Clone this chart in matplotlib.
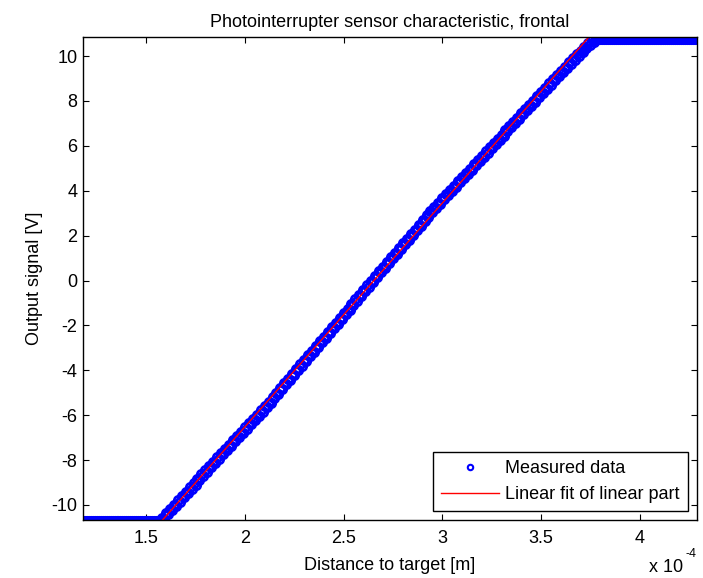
import matplotlib as mpl
import numpy as np
from matplotlib import pyplot as plt

mpl.rcParams["font.family"] = ["Liberation Sans", "DejaVu Sans"]
mpl.rcParams["axes.unicode_minus"] = False

# distance in units of 1e-4 m, output in V
# lower saturation
dist_lo = [1.18, 1.19, 1.20, 1.21, 1.22, 1.23, 1.24, 1.25, 1.26, 1.27,
           1.28, 1.29, 1.30, 1.31, 1.32, 1.33, 1.34, 1.35, 1.36, 1.37,
           1.38, 1.39, 1.40, 1.41, 1.42, 1.43, 1.44, 1.45, 1.46, 1.47,
           1.48, 1.49, 1.50, 1.51, 1.52, 1.53, 1.54, 1.55, 1.56, 1.57]
volt_lo = [-10.70] * len(dist_lo)

# linear range, first sweep
dist_up = [1.58, 1.60, 1.62, 1.64, 1.66, 1.68, 1.70, 1.72, 1.74, 1.76,
           1.78, 1.80, 1.82, 1.84, 1.86, 1.88, 1.90, 1.92, 1.94, 1.96,
           1.98, 2.00, 2.02, 2.04, 2.06, 2.08, 2.10, 2.12, 2.14, 2.16,
           2.18, 2.20, 2.22, 2.24, 2.26, 2.28, 2.30, 2.32, 2.34, 2.36,
           2.38, 2.40, 2.42, 2.44, 2.46, 2.48, 2.50, 2.52, 2.54, 2.56,
           2.58, 2.60, 2.62, 2.64, 2.66, 2.68, 2.70, 2.72, 2.74, 2.76,
           2.78, 2.80, 2.82, 2.84, 2.86, 2.88, 2.90, 2.92, 2.94, 2.96,
           2.98, 3.00, 3.02, 3.04, 3.06, 3.08, 3.10, 3.12, 3.14, 3.16,
           3.18, 3.20, 3.22, 3.24, 3.26, 3.28, 3.30, 3.32, 3.34, 3.36,
           3.38, 3.40, 3.42, 3.44, 3.46, 3.48, 3.50, 3.52, 3.54, 3.56,
           3.58, 3.60, 3.62, 3.64, 3.66, 3.68, 3.70, 3.72, 3.74, 3.76]
volt_up = [-10.56, -10.37, -10.17, -9.98, -9.79, -9.60, -9.41, -9.22, -9.03, -8.84,
           -8.64, -8.45, -8.26, -8.07, -7.88, -7.69, -7.50, -7.31, -7.12, -6.92,
           -6.73, -6.54, -6.35, -6.16, -5.97, -5.78, -5.59, -5.39, -5.20, -4.99,
           -4.78, -4.57, -4.37, -4.16, -3.95, -3.74, -3.54, -3.33, -3.12, -2.91,
           -2.71, -2.50, -2.29, -2.08, -1.88, -1.67, -1.46, -1.25, -1.05, -0.84,
           -0.63, -0.42, -0.22, -0.01, 0.20, 0.41, 0.61, 0.82, 1.03, 1.24,
           1.44, 1.65, 1.86, 2.07, 2.27, 2.48, 2.69, 2.90, 3.09, 3.28,
           3.47, 3.66, 3.85, 4.04, 4.23, 4.42, 4.61, 4.80, 4.99, 5.18,
           5.37, 5.56, 5.75, 5.94, 6.13, 6.31, 6.50, 6.69, 6.88, 7.07,
           7.26, 7.45, 7.64, 7.83, 8.02, 8.21, 8.40, 8.59, 8.78, 8.97,
           9.16, 9.35, 9.53, 9.72, 9.90, 10.07, 10.24, 10.41, 10.58, 10.74]

# linear range, second sweep (lower edge of the band)
dist_dn = [1.59, 1.61, 1.63, 1.65, 1.67, 1.69, 1.71, 1.73, 1.75, 1.77,
           1.79, 1.81, 1.83, 1.85, 1.87, 1.89, 1.91, 1.93, 1.95, 1.97,
           1.99, 2.01, 2.03, 2.05, 2.07, 2.09, 2.11, 2.13, 2.15, 2.17,
           2.19, 2.21, 2.23, 2.25, 2.27, 2.29, 2.31, 2.33, 2.35, 2.37,
           2.39, 2.41, 2.43, 2.45, 2.47, 2.49, 2.51, 2.53, 2.55, 2.57,
           2.59, 2.61, 2.63, 2.65, 2.67, 2.69, 2.71, 2.73, 2.75, 2.77,
           2.79, 2.81, 2.83, 2.85, 2.87, 2.89, 2.91, 2.93, 2.95, 2.97,
           2.99, 3.01, 3.03, 3.05, 3.07, 3.09, 3.11, 3.13, 3.15, 3.17,
           3.19, 3.21, 3.23, 3.25, 3.27, 3.29, 3.31, 3.33, 3.35, 3.37,
           3.39, 3.41, 3.43, 3.45, 3.47, 3.49, 3.51, 3.53, 3.55, 3.57,
           3.59, 3.61, 3.63, 3.65, 3.67, 3.69, 3.71, 3.73, 3.75, 3.77]
volt_dn = [-10.62, -10.42, -10.23, -10.04, -9.85, -9.66, -9.47, -9.28, -9.09, -8.89,
           -8.70, -8.51, -8.32, -8.13, -7.94, -7.75, -7.56, -7.37, -7.17, -6.98,
           -6.79, -6.60, -6.41, -6.22, -6.03, -5.84, -5.64, -5.45, -5.25, -5.04,
           -4.83, -4.62, -4.42, -4.21, -4.00, -3.79, -3.59, -3.38, -3.17, -2.96,
           -2.76, -2.55, -2.34, -2.13, -1.93, -1.72, -1.51, -1.30, -1.10, -0.89,
           -0.68, -0.47, -0.27, -0.06, 0.16, 0.36, 0.57, 0.78, 0.99, 1.19,
           1.40, 1.61, 1.82, 2.02, 2.23, 2.44, 2.65, 2.85, 3.04, 3.23,
           3.42, 3.61, 3.80, 3.99, 4.18, 4.37, 4.56, 4.75, 4.94, 5.13,
           5.32, 5.51, 5.70, 5.89, 6.07, 6.26, 6.45, 6.64, 6.83, 7.02,
           7.21, 7.40, 7.59, 7.78, 7.97, 8.16, 8.35, 8.54, 8.73, 8.92,
           9.11, 9.29, 9.48, 9.66, 9.84, 10.01, 10.18, 10.35, 10.51, 10.62]

# upper saturation
dist_hi = [3.78, 3.79, 3.80, 3.81, 3.82, 3.83, 3.84, 3.85, 3.86, 3.87,
           3.88, 3.89, 3.90, 3.91, 3.92, 3.93, 3.94, 3.95, 3.96, 3.97,
           3.98, 3.99, 4.00, 4.01, 4.02, 4.03, 4.04, 4.05, 4.06, 4.07,
           4.08, 4.09, 4.10, 4.11, 4.12, 4.13, 4.14, 4.15, 4.16, 4.17,
           4.18, 4.19, 4.20, 4.21, 4.22, 4.23, 4.24, 4.25, 4.26, 4.27, 4.28]
volt_hi = [10.78] * len(dist_hi)

fit_dist = [1.58, 2.00, 2.50, 3.00, 3.50, 3.738]
fit_volt = [-10.70, -6.52, -1.53, 3.45, 8.43, 10.80]

dist = np.array(dist_lo + dist_up + dist_dn + dist_hi)
volt = np.array(volt_lo + volt_up + volt_dn + volt_hi)

FS = 13

fig = plt.figure(figsize=(7.03, 5.78), dpi=100)
ax = fig.add_axes([0.118, 0.1003, 0.8735, 0.8357])

ax.plot(dist, volt, "o", color="#0000ff", markerfacecolor="none",
        markersize=6, markeredgewidth=2.0, label="Measured data")
ax.plot(fit_dist, fit_volt, "-", color="#ff0000", lw=1.0,
        label="Linear fit of linear part")

ax.set_xlim(1.18, 4.29)
ax.set_ylim(-10.67, 10.85)
ax.set_xticks([1.5, 2, 2.5, 3, 3.5, 4])
ax.set_xticklabels(["1.5", "2", "2.5", "3", "3.5", "4"])
ax.set_yticks(np.arange(-10, 11, 2))

ax.tick_params(direction="in", top=True, right=True, length=4, width=0.8,
               labelsize=FS)
ax.tick_params(axis="x", pad=7.5)
ax.tick_params(axis="y", pad=4)
for s in ax.spines.values():
    s.set_linewidth(1.0)

ax.set_title("Photointerrupter sensor characteristic, frontal", fontsize=FS, pad=7)
ax.set_xlabel("Distance to target [m]", fontsize=FS, labelpad=7)
ax.set_ylabel("Output signal [V]", fontsize=FS, labelpad=6)

fig.text(0.923, 0.003, "x 10", fontsize=FS, ha="left", va="bottom")
fig.text(0.975, 0.032, "-4", fontsize=9, ha="left", va="bottom")

leg = ax.legend(loc="lower right", fancybox=False, edgecolor="black",
                framealpha=1, fontsize=FS, numpoints=1, handlelength=3.2,
                handletextpad=0.35, markerscale=0.65, borderaxespad=0.5,
                borderpad=0.45, labelspacing=0.5)
leg.get_frame().set_linewidth(1.0)
leg.legend_handles[0].set_markeredgewidth(1.5)

plt.savefig("out.png", dpi=100)
